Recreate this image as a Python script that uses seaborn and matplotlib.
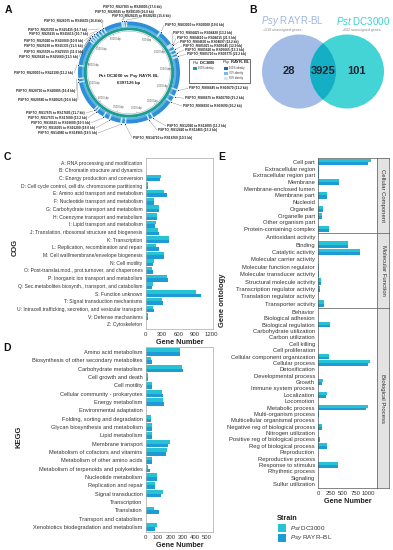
import numpy as np
import pandas as pd
import matplotlib
matplotlib.use('Agg')
import matplotlib.pyplot as plt
import seaborn as sns
from matplotlib.patches import Wedge, Circle, Rectangle

sns.set_theme(style='white')
plt.rcParams['font.family'] = ['Liberation Sans', 'DejaVu Sans']
plt.rcParams['mathtext.fontset'] = 'custom'
plt.rcParams['mathtext.rm'] = 'Liberation Sans'
plt.rcParams['mathtext.it'] = 'Liberation Sans:italic'
plt.rcParams['mathtext.bf'] = 'Liberation Sans:bold'

# ---------------- data ----------------
strains = ['Pst DC3000', 'Psy RAYR-BL']

cog_cats = ['A: RNA processing and modification', 'B: Chromatin structure and dynamics',
            'C: Energy production and conversion', 'D: Cell cycle control, cell div. chromosome partitioning',
            'E: Amino acid transport and metabolism', 'F: Nucleotide transport and metabolism',
            'G: Carbohydrate transport and metabolism', 'H: Coenzyme transport and metabolism',
            'I: Lipid transport and metabolism', 'J: Translation, ribosomal structure and biogenesis',
            'K: Transcription', 'L: Replication, recombination and repair',
            'M: Cell wall/membrane/envelope biogenesis', 'N: Cell motility',
            'O: Post-translat.mod., prot.turnover, and chaperones', 'P: Inorganic ion transport and metabolism',
            'Q: Sec.metabolites biosynth., transport, and catabolism', 'S: Function unknown',
            'T: Signal transduction mechanisms', 'U: Intracell.trafficking, secretion, and vesicular transport',
            'V: Defense mechanisms', 'Z: Cytoskeleton']
cog_pst = [2, 1, 280, 45, 330, 150, 250, 205, 190, 230, 420, 190, 340, 145, 125, 400, 130, 920, 305, 140, 45, 3]
cog_psy = [2, 1, 265, 50, 385, 155, 245, 200, 180, 240, 430, 240, 345, 140, 130, 410, 125, 1015, 310, 160, 50, 3]

kegg_cats = ['Amino acid metabolism', 'Biosynthesis of other secondary metabolites', 'Carbohydrate metabolism',
             'Cell growth and death', 'Cell motility', 'Cellular community - prokaryotes', 'Energy metabolism',
             'Environmental adaptation', 'Folding, sorting and degradation', 'Glycan biosynthesis and metabolism',
             'Lipid metabolism', 'Membrane transport', 'Metabolism of cofactors and vitamins',
             'Metabolism of other amino acids', 'Metabolism of terpenoids and polyketides', 'Nucleotide metabolism',
             'Replication and repair', 'Signal transduction', 'Transcription', 'Translation',
             'Transport and catabolism', 'Xenobiotics biodegradation and metabolism']
kegg_pst = [275, 45, 295, 20, 55, 135, 140, 4, 45, 55, 55, 195, 175, 50, 22, 95, 75, 140, 3, 70, 5, 90]
kegg_psy = [280, 50, 300, 22, 50, 140, 145, 5, 42, 52, 55, 185, 165, 48, 35, 92, 78, 128, 3, 105, 5, 75]

go_cc_cats = ['Cell part', 'Extracellular region', 'Extracellular region part', 'Membrane',
              'Membrane-enclosed lumen', 'Membrane part', 'Nucleoid', 'Organelle', 'Organelle part',
              'Other organism part', 'Protein-containing complex']
go_cc_pst = [1060, 20, 5, 420, 3, 180, 3, 100, 70, 2, 220]
go_cc_psy = [1000, 18, 5, 410, 3, 175, 3, 95, 65, 2, 215]

go_mf_cats = ['Antioxidant activity', 'Binding', 'Catalytic activity', 'Molecular carrier activity',
              'Molecular function regulator', 'Molecular transducer activity', 'Structural molecule activity',
              'Transcription regulator activity', 'Translation regulator activity', 'Transporter activity']
go_mf_pst = [3, 600, 830, 3, 4, 6, 50, 35, 2, 115]
go_mf_psy = [3, 590, 840, 3, 4, 6, 48, 33, 2, 110]

go_bp_cats = ['Behavior', 'Biological adhesion', 'Biological regulation', 'Carbohydrate utilization',
              'Carbon utilization', 'Cell killing', 'Cell proliferation', 'Cellular component organization',
              'Cellular process', 'Detoxification', 'Developmental process', 'Growth', 'Immune system process',
              'Localization', 'Locomotion', 'Metabolic process', 'Multi-organism process',
              'Multicellular organismal process', 'Negative reg of biological process', 'Nitrogen utilization',
              'Positive reg of biological process', 'Reg of biological process', 'Reproduction',
              'Reproductive process', 'Response to stimulus', 'Rhythmic process', 'Signaling', 'Sulfur utilization']
go_bp_pst = [1, 2, 235, 2, 2, 1, 1, 220, 1035, 3, 3, 85, 1, 165, 3, 985, 20, 2, 68, 2, 35, 180, 2, 2, 400, 2, 3, 2]
go_bp_psy = [1, 2, 230, 2, 2, 1, 1, 215, 990, 3, 3, 80, 1, 160, 3, 950, 18, 2, 65, 2, 33, 175, 2, 2, 390, 2, 3, 2]

go_facets = ['Cellular Component', 'Molecular Function', 'Biological Process']

venn_only_psy = 28
venn_shared = 3925
venn_only_pst = 101
unassigned_psy = 510
unassigned_pst = 602

genome_bp = 6397126
pos_ticks_kbp = [500, 1000, 1500, 2000, 2500, 3000, 3500, 4000, 4500, 5000, 5500, 6000]
region_labels = [
    'PSPTO_RS27965 to RS28005 (17.6 kb)', 'PSPTO_RS28025 to RS28100 (16.8 kb)',
    'PSPTO_RS28225 to RS28245 (15.6 kb)', 'PSPTO_RS26075 to RS26635 (16.8 kb)',
    'PSPTO_RS25700 to RS25435 (16.7 kb)', 'PSPTO_RS25625 to RS25615 (10.7 kb)',
    'PSPTO_RS25020 to RS25060 (10.8 kb)', 'PSPTO_RS25290 to RS25335 (11.5 kb)',
    'PSPTO_RS25505 to RS25555 (11.6 kb)', 'PSPTO_RS25610 to RS25660 (13.5 kb)',
    'PSPTO_RS20000 to RS22190 (11.2 kb)', 'PSPTO_RS20710 to RS20805 (16.4 kb)',
    'PSPTO_RS20580 to RS20625 (10.6 kb)', 'PSPTO_RS17675 to RS17685 (11.7 kb)',
    'PSPTO_RS17575 to RS17600 (13.2 kb)', 'PSPTO_RS16615 to RS16600 (10.5 kb)',
    'PSPTO_RS16095 to RS16200 (18.0 kb)', 'PSPTO_RS14980 to RS14965 (18.5 kb)',
    'PSPTO_RS14710 to RS14760 (10.5 kb)', 'PSPTO_RS03000 to RS03080 (19.6 kb)',
    'PSPTO_RS04425 to RS04420 (13.2 kb)', 'PSPTO_RS04610 to RS04615 (21.5 kb)',
    'PSPTO_RS04630 to RS04697 (23.2 kb)', 'PSPTO_RS05025 to RS05045 (12.9 kb)',
    'PSPTO_RS05620 to RS05665 (15.3 kb)', 'PSPTO_RS05710 to RS05775 (22.2 kb)',
    'PSPTO_RS06645 to RS06670 (13.2 kb)', 'PSPTO_RS06675 to RS06700 (15.2 kb)',
    'PSPTO_RS06650 to RS06690 (16.2 kb)', 'PSPTO_RS12060 to RS12005 (11.2 kb)',
    'PSPTO_RS12420 to RS12465 (15.2 kb)']
region_kbp = [6255, 6291, 6344, 5864, 5793, 5722, 5651, 5598, 5544, 5491,
              4940, 4674, 4602, 3963, 3909, 3732, 3607, 3358, 3270,
              675, 995, 1022, 1040, 1128, 1208, 1279, 1955, 2097, 2221, 2701, 2790]
region_len_kb = [17.6, 16.8, 15.6, 16.8, 16.7, 10.7, 10.8, 11.5, 11.6, 13.5,
                 11.2, 16.4, 10.6, 11.7, 13.2, 10.5, 18.0, 18.5, 10.5,
                 19.6, 13.2, 21.5, 23.2, 12.9, 15.3, 22.2, 13.2, 15.2, 16.2, 11.2, 15.2]

# ---------------- layout (pixel positions) ----------------
W, H = 393, 550
fig = plt.figure(figsize=(W / 100, H / 100), dpi=100)
fig.patch.set_facecolor('white')

def px_axes(l, t, r, b):
    return fig.add_axes([l / W, 1 - b / H, (r - l) / W, (b - t) / H])

def ftxt(x, y, s, **kw):
    return fig.text(x / W, 1 - y / H, s, **kw)

palette = {'Pst DC3000': '#27C3D5', 'Psy RAYR-BL': '#1B9CD6'}
TXT = '#333333'

def draw_bars(ax, cats, pst, psy, xmax, ticks, fs, show_x=True, spine_col='#A8A8A8'):
    df = pd.DataFrame({'category': cats + cats, 'count': pst + psy,
                       'strain': [strains[0]] * len(cats) + [strains[1]] * len(cats)})
    sns.barplot(data=df, x='count', y='category', hue='strain', order=cats, hue_order=strains,
                palette=palette, orient='h', width=0.9, errorbar=None, saturation=1,
                legend=False, ax=ax, linewidth=0)
    ax.set_xlim(0, xmax)
    ax.set_ylim(len(cats) - 1 + 0.6, -0.6)
    ax.set_xticks(ticks)
    ax.tick_params(axis='y', labelsize=fs, length=1.5, width=0.4, pad=0.8, colors='#666666',
                   labelcolor=TXT)
    ax.tick_params(axis='x', labelsize=4.3, length=1.5, width=0.4, pad=0.8, colors='#666666',
                   labelcolor=TXT)
    if not show_x:
        ax.tick_params(axis='x', length=0, labelbottom=False)
    ax.set_ylabel('')
    ax.set_xlabel('')
    for s in ax.spines.values():
        s.set_color(spine_col)
        s.set_linewidth(0.5)
    ax.set_facecolor('white')

# ---------------- Panel C: COG ----------------
axc = px_axes(145.7, 158, 213, 329)
draw_bars(axc, cog_cats, cog_pst, cog_psy, 1239, [0, 300, 600, 900, 1200], 3.6)
axc.set_xlabel('Gene Number', fontsize=5.2, fontweight='bold', labelpad=1, color='#222222')

# ---------------- Panel D: KEGG ----------------
axd = px_axes(145.7, 347, 213, 532)
draw_bars(axd, kegg_cats, kegg_pst, kegg_psy, 547, [0, 100, 200, 300, 400, 500], 4.1)
axd.set_xlabel('Gene Number', fontsize=5.2, fontweight='bold', labelpad=1, color='#222222')

# ---------------- Panel E: GO facets ----------------
facet_rows = [(158, 233), (233, 308), (308, 488)]
facet_data = [(go_cc_cats, go_cc_pst, go_cc_psy), (go_mf_cats, go_mf_pst, go_mf_psy),
              (go_bp_cats, go_bp_pst, go_bp_psy)]
for i, ((t, b), (cats, p1, p2), name) in enumerate(zip(facet_rows, facet_data, go_facets)):
    axe = px_axes(318.3, t, 377, b)
    draw_bars(axe, cats, p1, p2, 1174, [0, 250, 500, 750, 1000], 4.2, show_x=(i == 2),
              spine_col='#555555')
    if i == 2:
        axe.set_xlabel('Gene Number', fontsize=5.2, fontweight='bold', labelpad=1, color='#222222')
    axs = px_axes(377, t, 389, b)
    axs.set_facecolor('#E3E3E3')
    axs.set_xticks([]); axs.set_yticks([])
    for s in axs.spines.values():
        s.set_color('#555555'); s.set_linewidth(0.5)
    axs.text(0.5, 0.5, name, rotation=270, ha='center', va='center', fontsize=4.3,
             color='#333333', transform=axs.transAxes)

# ---------------- axis titles & panel letters ----------------
ftxt(15, 247, 'COG', rotation=90, ha='center', va='center', fontsize=5.5, fontweight='bold', color='#222222')
ftxt(19, 437, 'KEGG', rotation=90, ha='center', va='center', fontsize=5.5, fontweight='bold', color='#222222')
ftxt(223, 300, 'Gene ontology', rotation=90, ha='center', va='center', fontsize=5.5, fontweight='bold',
     color='#222222')
for letter, x, y in [('A', 8, 10), ('B', 253, 10), ('C', 7, 157), ('D', 7, 348), ('E', 222, 157)]:
    ftxt(x, y, letter, ha='center', va='center', fontsize=7.5, fontweight='bold', color='#111111')

# ---------------- legend ----------------
ftxt(277, 518, 'Strain', ha='left', va='center', fontsize=5.2, fontweight='bold', color='#222222')
axl = px_axes(270, 520, 393, 548)
axl.set_xlim(270, 393); axl.set_ylim(548, 520); axl.axis('off')
leg_labels = [r'$\it{Pst}$ DC3000', r'$\it{Psy}$ RAYR–BL']
for k, (st, lab) in enumerate(zip(strains, leg_labels)):
    y0 = 524 + k * 10
    axl.add_patch(Rectangle((278, y0), 8, 8, facecolor=palette[st], edgecolor='none'))
    axl.text(290, y0 + 4, lab, ha='left', va='center', fontsize=4.5, color='#333333')

# ---------------- Panels A and B (pixel coords) ----------------
axt = px_axes(0, 0, 393, 142)
axt.set_xlim(0, 393); axt.set_ylim(142, 0); axt.axis('off')

cx, cy = 129, 72.5

def pt(theta_deg, r):
    th = np.deg2rad(theta_deg)
    return cx + r * np.sin(th), cy - r * np.cos(th)

# rings
axt.add_patch(Wedge((cx, cy), 51, 0, 360, width=5.5, facecolor='#2E8ED6', edgecolor='none'))
axt.add_patch(Wedge((cx, cy), 47.3, 0, 360, width=1.8, facecolor='#5DB2E8', edgecolor='none'))
axt.add_patch(Wedge((cx, cy), 45.2, 0, 360, width=3.0, facecolor='#1C9E95', edgecolor='none'))
axt.add_patch(Circle((cx, cy), 41.3, facecolor='none', edgecolor='#9A9A9A', lw=0.3))
for kbp, ln in zip(region_kbp, region_len_kb):
    th = kbp / (genome_bp / 1000) * 360
    half = max(ln / (genome_bp / 1000) * 360, 0.9)
    axt.add_patch(Wedge((cx, cy), 51, th - 90 - half, th - 90 + half, width=5.5,
                        facecolor='#CFE8F7', edgecolor='none'))
for kbp in pos_ticks_kbp:
    th = kbp / (genome_bp / 1000) * 360
    x, y = pt(th, 36.5)
    axt.text(x, y, f'{kbp} kbp', fontsize=1.8, ha='center', va='center', color='#555555')
    x1, y1 = pt(th, 41.3); x2, y2 = pt(th, 40.0)
    axt.plot([x1, x2], [y1, y2], color='#777777', lw=0.3)

# region labels layout: (x, y, ha)
label_layout = [(132, 7.3, 'center'), (124, 11.7, 'center'), (141, 15.7, 'center'),
                (102, 20.7, 'right'), (87, 30, 'right'), (88, 34.3, 'right'), (83, 41, 'right'),
                (83, 46, 'right'), (83, 51.7, 'right'), (78, 56.7, 'right'),
                (73, 73.3, 'right'), (75, 90.7, 'right'), (77, 100, 'right'),
                (85, 113, 'right'), (87, 118, 'right'), (90, 123, 'right'), (95, 128, 'right'),
                (97, 133, 'right'), (133, 137.5, 'left'),
                (165, 25, 'left'), (173, 32.7, 'left'), (177, 38.3, 'left'), (180, 41.7, 'left'),
                (183, 46, 'left'), (185, 50, 'left'), (187, 54.3, 'left'),
                (189, 88.3, 'left'), (185, 98.3, 'left'), (183, 106, 'left'),
                (167, 126, 'left'), (158, 130, 'left')]
for lab, kbp, (x, y, ha) in zip(region_labels, region_kbp, label_layout):
    axt.text(x, y, lab, fontsize=2.3, fontweight='bold', ha=ha, va='center', color='#222222')
    th = kbp / (genome_bp / 1000) * 360
    ex, ey = pt(th, 52.5)
    if ha == 'right':
        sx, sy = x + 1, y
    elif ha == 'left':
        sx, sy = x - 1, y
    else:
        sx, sy = x, y + 1.5
    axt.plot([sx, ex], [sy, ey], color='#888888', lw=0.3)
    d1x, d1y = pt(th, 51.8)
    axt.plot([d1x], [d1y], marker='o', ms=0.6, color='#111111', mew=0)

axt.text(cx, 76, r'$\bf{Pst}$ $\bf{DC3000}$ $\bf{vs}$ $\bf{Psy}$ $\bf{RAYR}$-$\bf{BL}$', fontsize=3.2,
         ha='center', va='center', color='#222222')
axt.text(cx, 83, '6397126 bp', fontsize=3.2, fontweight='bold', ha='center', va='center', color='#222222')

# A legend box
axt.add_patch(Rectangle((189, 59), 61, 24, facecolor='white', edgecolor='#333333', lw=0.5))
axt.text(192, 62.5, r'$\it{Pst}$ DC3000', fontsize=3.0, fontweight='bold', ha='left', va='center',
         color='#222222')
axt.text(222, 62.5, r'$\it{Psy}$ RAYR-BL', fontsize=3.0, fontweight='bold', ha='left', va='center',
         color='#222222')
axt.add_patch(Rectangle((193, 66.5), 3.5, 3.5, facecolor='#1C9E95', edgecolor='none'))
axt.text(198, 68.3, '100% identity', fontsize=1.9, ha='left', va='center', color='#333333')
for k, (col, lab) in enumerate(zip(['#1565C0', '#7DB7E6', '#D2E6F5'],
                                   ['100% identity', '70% identity', '50% identity'])):
    yy = 66.5 + k * 5
    axt.add_patch(Rectangle((224, yy), 3.5, 3.5, facecolor=col, edgecolor='none'))
    axt.text(229, yy + 1.8, lab, fontsize=1.9, ha='left', va='center', color='#333333')

# ---------------- Panel B: Venn ----------------
r_v = 37
left_c = Circle((299, 71.5), r_v, facecolor='#A2BCE6', edgecolor='none')
right_c = Circle((347, 71.5), r_v, facecolor='#44D4D6', edgecolor='none')
axt.add_patch(left_c)
axt.add_patch(right_c)
overlap = Circle((347, 71.5), r_v, facecolor='#14AFC4', edgecolor='none')
axt.add_patch(overlap)
overlap.set_clip_path(left_c)
axt.text(289, 71, f'{venn_only_psy}', fontsize=8, fontweight='bold', ha='center', va='center', color='#1B2430')
axt.text(323, 71, f'{venn_shared}', fontsize=8, fontweight='bold', ha='center', va='center', color='#1B2430')
axt.text(357, 71, f'{venn_only_pst}', fontsize=8, fontweight='bold', ha='center', va='center', color='#1B2430')
axt.text(292, 21.0, r'$\it{Psy}$ RAYR-BL', fontsize=7.0, ha='center', va='center', color='#9DB7E2')
axt.text(363.5, 21.0, r'$\it{Pst}$ DC3000', fontsize=7.0, ha='center', va='center', color='#3CCFD2')
axt.text(263, 29.8, f'+{unassigned_psy} unassigned genes', fontsize=2.6, ha='left', va='center', color='#888888')
axt.text(342, 29.8, f'+{unassigned_pst} unassigned genes', fontsize=2.6, ha='left', va='center', color='#888888')

fig.savefig('out.png', dpi=100, facecolor='white')
